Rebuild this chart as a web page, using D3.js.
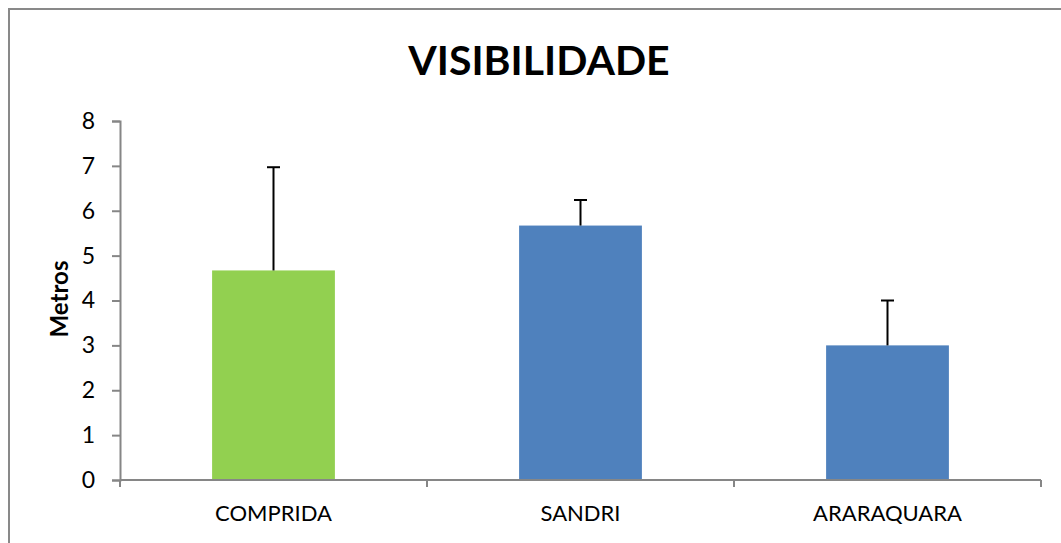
<!DOCTYPE html>
<html>
  <head>
    <script src="https://d3js.org/d3.v7.min.js"></script>
    <style>
      body { margin: 0; background: #fff; }
      svg { display: block; font-family: Lato, "Open Sans", sans-serif; }
      .axis .domain, .axis .tick line { stroke: #868686; stroke-width: 2px; }
      .axis .tick text { fill: #000; }
    </style>
  </head>
  <body>
    <svg width="1061" height="543"></svg>
    <script>
      const categories = ["COMPRIDA", "SANDRI", "ARARAQUARA"];
      const values = [4.67, 5.67, 3.0];
      const errors = [2.3, 0.57, 1.0];
      const colors = ["#92D050", "#4F81BD", "#4F81BD"];
      const yTicks = [0, 1, 2, 3, 4, 5, 6, 7, 8];

      const svg = d3.select("svg");
      const margin = {top: 121, left: 120, right: 20, bottom: 63};
      const innerWidth = 1041 - margin.left;
      const innerHeight = 480 - margin.top;

      // chart frame (cropped at right and bottom)
      svg.append("path")
          .attr("d", "M9,543 V9 H1061")
          .attr("fill", "none")
          .attr("stroke", "#898989")
          .attr("stroke-width", 2);

      svg.append("text")
          .attr("x", 539)
          .attr("y", 75)
          .attr("text-anchor", "middle")
          .attr("font-size", 41)
          .attr("font-weight", "bold")
          .text("VISIBILIDADE");

      const g = svg.append("g")
          .attr("transform", `translate(${margin.left}, ${margin.top})`);

      const xScale = d3.scaleBand()
          .domain(categories)
          .range([0, innerWidth])
          .paddingInner(0.6)
          .paddingOuter(0.3);
      const yScale = d3.scaleLinear().domain([0, 8]).range([innerHeight, 0]);

      const yAxis = d3.axisLeft(yScale)
          .tickValues(yTicks)
          .tickSizeOuter(0)
          .tickSize(8)
          .tickPadding(17);
      g.append("g").attr("class", "axis").call(yAxis)
          .selectAll("text").attr("font-size", 23).attr("font-family", "Lato");

      // bars
      g.selectAll("rect.bar").data(categories).enter().append("rect")
          .attr("class", "bar")
          .attr("x", d => xScale(d))
          .attr("width", xScale.bandwidth())
          .attr("y", (d, i) => yScale(values[i]))
          .attr("height", (d, i) => innerHeight - yScale(values[i]))
          .attr("fill", (d, i) => colors[i]);

      // x axis with ticks at category boundaries
      const xAxisG = g.append("g")
          .attr("class", "axis")
          .attr("transform", `translate(0, ${innerHeight})`);
      xAxisG.append("line")
          .attr("x1", 0).attr("x2", innerWidth)
          .attr("stroke", "#868686").attr("stroke-width", 2);
      const step = innerWidth / categories.length;
      xAxisG.selectAll("line.tk").data(d3.range(categories.length + 1)).enter().append("line")
          .attr("class", "tk")
          .attr("x1", i => i * step).attr("x2", i => i * step)
          .attr("y1", 0).attr("y2", 7)
          .attr("stroke", "#868686").attr("stroke-width", 2);
      xAxisG.selectAll("text").data(categories).enter().append("text")
          .attr("x", d => xScale(d) + xScale.bandwidth() / 2)
          .attr("y", 41)
          .attr("text-anchor", "middle")
          .attr("font-size", 22)
          .text(d => d);

      // error bars (upper only)
      const errG = g.selectAll("g.err").data(categories).enter().append("g")
          .attr("class", "err");
      errG.append("line")
          .attr("x1", d => xScale(d) + xScale.bandwidth() / 2)
          .attr("x2", d => xScale(d) + xScale.bandwidth() / 2)
          .attr("y1", (d, i) => yScale(values[i]))
          .attr("y2", (d, i) => yScale(values[i] + errors[i]))
          .attr("stroke", "#000").attr("stroke-width", 2);
      errG.append("line")
          .attr("x1", d => xScale(d) + xScale.bandwidth() / 2 - 6.5)
          .attr("x2", d => xScale(d) + xScale.bandwidth() / 2 + 6.5)
          .attr("y1", (d, i) => yScale(values[i] + errors[i]))
          .attr("y2", (d, i) => yScale(values[i] + errors[i]))
          .attr("stroke", "#000").attr("stroke-width", 2);

      svg.append("text")
          .attr("transform", "translate(68, 299) rotate(-90)")
          .attr("text-anchor", "middle")
          .attr("font-size", 24)
          .attr("font-weight", "bold")
          .text("Metros");
    </script>
  </body>
</html>
